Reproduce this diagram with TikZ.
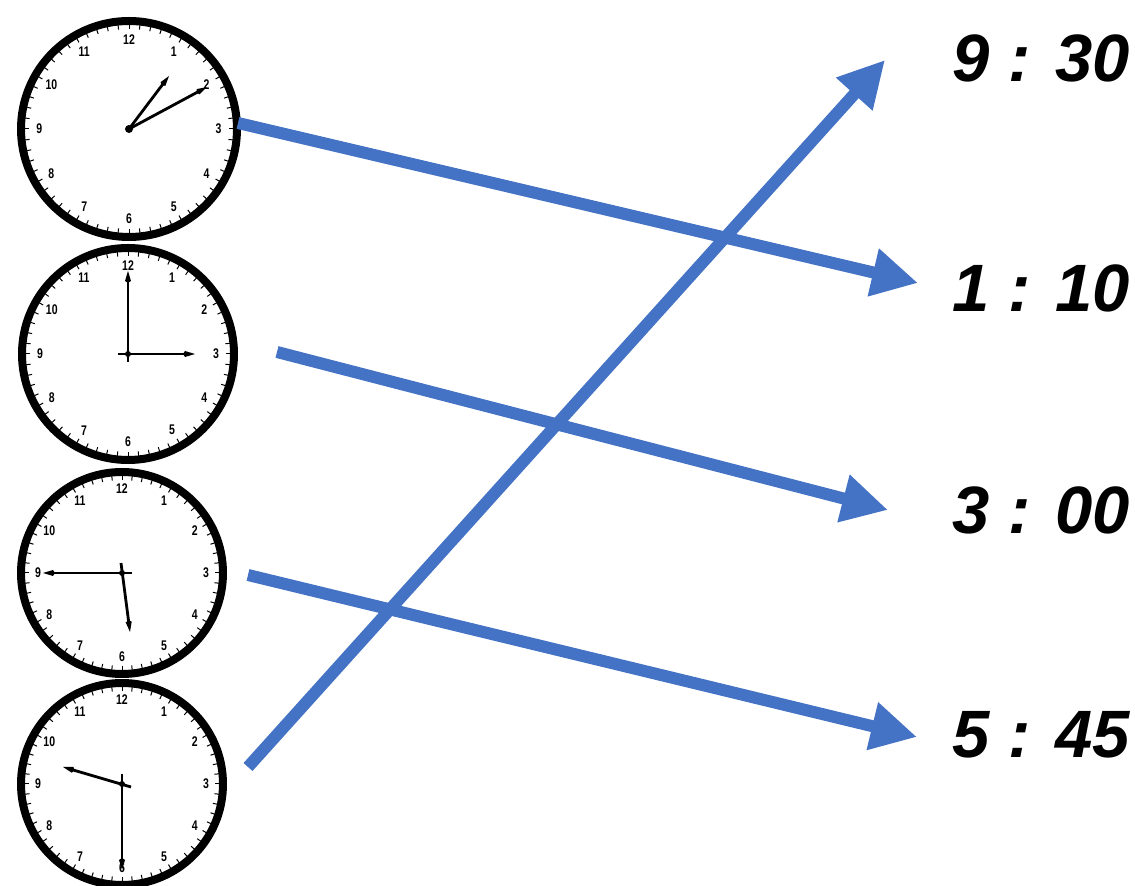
\documentclass[tikz,border=0pt]{standalone}
\usepackage{fontspec}
\setmainfont{Liberation Sans}
\usetikzlibrary{arrows.meta,calc}
\definecolor{arrowblue}{HTML}{4472C4}
\tikzset{
  x=1pt,y=1pt,
  clockface/.style={circle,draw=black,line width=8pt,fill=white,inner sep=0pt,minimum size=#1},
  hand/.style={line width=2.8pt,-{Kite[length=12pt,width=6pt,inset=2pt]}},
  timelabel/.style={anchor=west,inner sep=0pt,font=\fontsize{67}{77}\selectfont\bfseries\itshape},
  matcharrow/.style={draw=arrowblue,line width=12pt,-{Triangle[length=46pt,width=46pt]}},
  dial/.style={font=\fontsize{14}{14}\selectfont\bfseries,inner sep=0pt}
}
\newcommand{\clockdial}[2]{% #1 name, #2 outer radius (number)
  \foreach \k in {0,...,59}{
    \draw[line width=1pt] ($(#1)+(90-6*\k:#2pt-7.5pt)$) -- ($(#1)+(90-6*\k:#2pt-12pt)$);
  }
  \foreach \n in {1,...,12}{
    \node[dial,xscale=0.75] at ($(#1)+(90-30*\n:0.8*#2pt)$) {\n};
  }
}
\begin{document}
\begin{tikzpicture}
\useasboundingbox (0,0) rectangle (1135,886);
% clocks
\node[clockface=216pt] (c1) at (129,757) {};
\node[clockface=212pt] (c2) at (128,532) {};
\node[clockface=202pt] (c3) at (122,313) {};
\node[clockface=202pt] (c4) at (122,102) {};
\clockdial{c1}{112}
\clockdial{c2}{110}
\clockdial{c3}{105}
\clockdial{c4}{105}
% hands: clock 1 (1:10)
\draw[hand] (c1.center) -- ++(40,53);
\draw[hand] (c1.center) -- ++(78,42);
\fill (c1.center) circle (4pt);
% clock 2 (3:00)
\draw[hand] ($(c2.center)+(0,-8)$) -- ++(0,91);
\draw[hand] ($(c2.center)+(-10,0)$) -- ++(77,0);
\fill (c2.center) circle (3pt);
% clock 3 (5:45)
\draw[hand] ($(c3.center)+(10,0)$) -- ++(-89,0);
\draw[hand] ($(c3.center)+(-1,10)$) -- ++(9,-69);
\fill (c3.center) circle (3pt);
% clock 4 (9:30)
\draw[hand] ($(c4.center)+(9,-3)$) -- ++(-68,20);
\draw[hand] ($(c4.center)+(0,10)$) -- ++(0,-96);
\fill (c4.center) circle (3pt);
% time labels
\node[timelabel] (t1) at (952,828) {9 : 30};
\node[timelabel] (t2) at (952,598) {1 : 10};
\node[timelabel] (t3) at (952,376) {3 : 00};
\node[timelabel] (t4) at (952,151) {5 : 45};
% arrow endpoints
\coordinate (s1) at (238,763);
\coordinate (s2) at (277,534);
\coordinate (s3) at (248,311);
\coordinate (s4) at (248,119);
\coordinate (e1) at (918,603);
\coordinate (e2) at (888,376);
\coordinate (e3) at (917,149);
\coordinate (e4) at (885,826);
\draw[matcharrow] (s1) -- (e1);
\draw[matcharrow] (s2) -- (e2);
\draw[matcharrow] (s3) -- (e3);
\draw[matcharrow] (s4) -- (e4);
\end{tikzpicture}
\end{document}
